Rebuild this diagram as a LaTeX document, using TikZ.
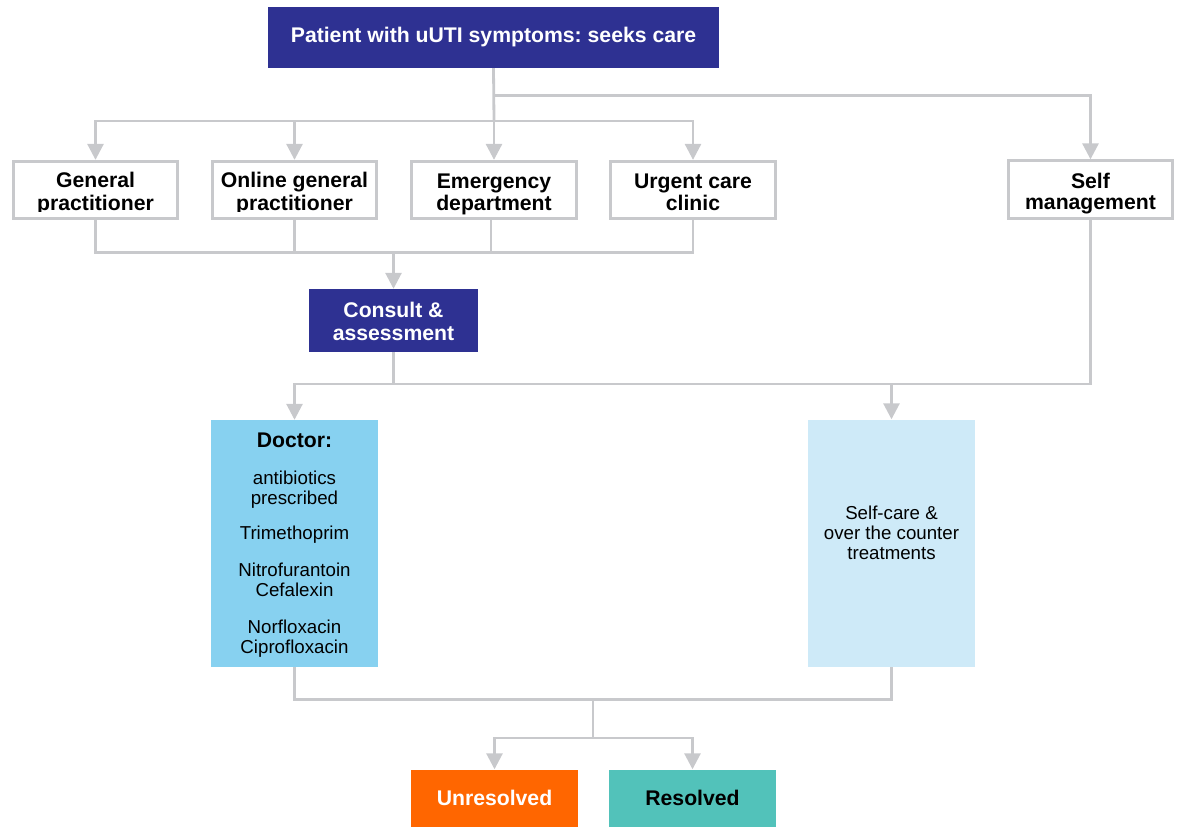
\documentclass[tikz,border=0pt]{standalone}
\usepackage{fontspec}
\setmainfont{Liberation Sans}
\usetikzlibrary{arrows.meta}
\frenchspacing

\definecolor{navy}{RGB}{46,49,146}
\definecolor{linegray}{RGB}{200,201,204}
\definecolor{docblue}{RGB}{135,209,240}
\definecolor{paleblue}{RGB}{206,234,248}
\definecolor{orangebox}{RGB}{255,102,0}
\definecolor{tealbox}{RGB}{82,194,186}

\tikzset{
  conn/.style={draw=linegray, line width=2.8pt},
  arrowconn/.style={conn, -{Triangle[width=16pt,length=16pt]}},
  navybox/.style={fill=navy, inner sep=0pt},
  boldtext/.style={inner sep=0pt, align=center,
    font=\fontsize{21.2}{21}\selectfont\bfseries},
  plaintext/.style={inner sep=0pt, align=center,
    font=\fontsize{18.7}{19.7}\selectfont},
  rowbox/.style={draw=linegray, line width=2.8pt, fill=white, inner sep=0pt,
    minimum width=164.5pt, minimum height=57.5pt},
  tallbox/.style={inner sep=0pt, minimum width=167pt, minimum height=247pt},
  outcome/.style={inner sep=0pt, minimum width=167pt, minimum height=58pt,
    text height=17pt, text depth=4pt,
    font=\fontsize{21.2}{24}\selectfont\bfseries},
}

\begin{document}
\begin{tikzpicture}[x=1pt, y=-1pt]
\useasboundingbox (0,0) rectangle (1179,827);

% entry point
\node[navybox, minimum width=451pt, minimum height=61pt] (top) at (493.5,37.5) {};
\node[boldtext, text=white, font=\fontsize{21.2}{25}\selectfont\bfseries]
  (toptext) at (493.5,37.3) {\strut Patient with uUTI symptoms: seeks care};

% care settings
\node[rowbox] (gp) at (95.5,190) {};
\node[rowbox] (op) at (294.5,190) {};
\node[rowbox] (ed) at (494,190) {};
\node[rowbox] (uc) at (693,190) {};
\node[rowbox] (self) at (1090.5,189.5) {};
\begin{scope}
  \clip (12,160) rectangle (378,211.5);
  \node[boldtext] (gptext) at (95.5,194.6) {\strut General\\practitioner\strut};
  \node[boldtext] (optext) at (294.5,194.6) {\strut Online general\\practitioner\strut};
\end{scope}
\node[boldtext] (edtext) at (494,195.3) {\strut Emergency\\department\strut};
\node[boldtext] (uctext) at (693,195.3) {\strut Urgent care\\clinic\strut};
\node[boldtext] (selftext) at (1090.5,194) {\strut Self\\management\strut};

% assessment
\node[navybox, minimum width=169pt, minimum height=63pt] (consult) at (393.5,320.5) {};
\node[boldtext, text=white, font=\fontsize{21.2}{23}\selectfont\bfseries]
  (consulttext) at (393.5,323.9) {\strut Consult \&\\assessment\strut};

% treatment
\node[tallbox, fill=docblue] (doctor) at (294.5,543.5) {};
\node[plaintext] (doctortext) at (294.5,545.7)
  {{\fontsize{21.2}{19.7}\selectfont\bfseries\rule{0pt}{15pt}Doctor:}\\[17.3pt]
   antibiotics\\prescribed\\[15.8pt]
   Trimethoprim\\[17pt]
   Nitrofurantoin\\Cefalexin\\[17.5pt]
   Norfloxacin\\Ciprofloxacin\strut};
\node[tallbox, fill=paleblue] (selfcare) at (891.5,543) {};
\node[plaintext, font=\fontsize{18.7}{20}\selectfont] (selfcaretext) at (891.5,535)
  {\strut Self-care \&\\over the counter\\treatments\strut};

% outcomes
\node[outcome, fill=orangebox, text=white] (unres) at (494.5,798.5) {Unresolved};
\node[outcome, fill=tealbox, text=black] (res) at (692.5,798.5) {Resolved};

% connectors
\coordinate (split) at (494,121);
\coordinate (splitself) at (494,95.5);
\draw[conn] (top.south) -- (split);
\draw[arrowconn] (splitself) -| (self.north);
\draw[arrowconn] (split) -| (gp.north);
\draw[arrowconn] (split) -| (op.north);
\draw[arrowconn] (split) -- (ed.north);
\draw[arrowconn] (split) -| (uc.north);

\coordinate (merge) at (393.5,252.5);
\coordinate (edout) at (491,220);
\draw[conn] (gp.south) |- (merge) -| (uc.south);
\draw[conn] (op.south) -- (op.south |- merge);
\draw[conn] (edout) -- (edout |- merge);
\draw[arrowconn] (merge) -- (consult.north);

\coordinate (route) at (393.5,384);
\draw[conn] (consult.south) -- (route);
\draw[conn] (self.south) |- (route);
\draw[arrowconn] (route) -| (doctor.north);
\draw[arrowconn] (selfcare.north |- route) -- (selfcare.north);

\coordinate (join) at (593,699.5);
\coordinate (fork) at (593,738);
\draw[conn] (doctor.south) |- (join) -| (selfcare.south);
\draw[conn] (join) -- (fork);
\draw[arrowconn] (fork) -| (unres.north);
\draw[arrowconn] (fork) -| (res.north);
\end{tikzpicture}
\end{document}
